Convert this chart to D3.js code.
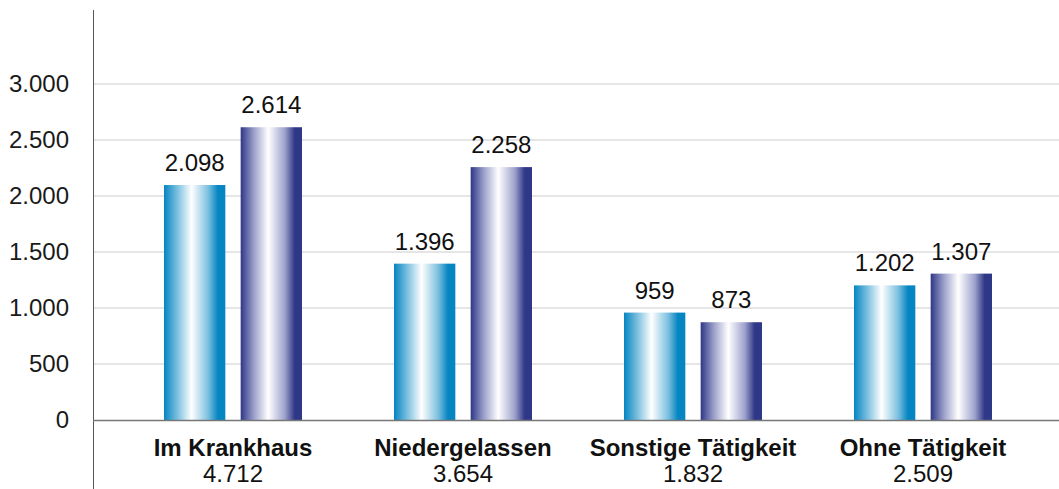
<!DOCTYPE html>
<html>
<head>
<meta charset="utf-8">
<script src="https://cdn.jsdelivr.net/npm/d3@7"></script>
<style>
  html, body { margin: 0; padding: 0; background: #fff; }
  svg { display: block; font-family: "Liberation Sans", Arial, sans-serif; }
</style>
</head>
<body>
<svg id="chart" width="1059" height="489"></svg>
<script>
// Categories, totals and the two series per category
const categories = ["Im Krankhaus", "Niedergelassen", "Sonstige Tätigkeit", "Ohne Tätigkeit"];
const totals = ["4.712", "3.654", "1.832", "2.509"];
const seriesA = [2098, 1396, 959, 1202];
const seriesB = [2614, 2258, 873, 1307];
const yTicks = [0, 500, 1000, 1500, 2000, 2500, 3000];

const W = 1059, H = 489;
const FS = 24;
const svg = d3.select("#chart");

const axisX = 93;
const y = d3.scaleLinear().domain([0, 3000]).range([420, 84]);
const x = d3.scaleBand().domain(categories).range([118, 1038]);
const inner = d3.scaleBand().domain(["a", "b"]).range([46, 184]).paddingInner(0.2);

const fmt = v => d3.format(",")(v).replace(/,/g, ".");

// Bar gradients: dark edges, white highlight just left of centre
const defs = svg.append("defs");
function gradient(id, dark, mid) {
  const g = defs.append("linearGradient").attr("id", id)
    .attr("x1", "0%").attr("x2", "100%").attr("y1", "0%").attr("y2", "0%");
  [[0, dark], [0.22, mid], [0.45, "#ffffff"], [0.72, mid], [0.88, dark], [1, dark]]
    .forEach(([o, c]) => g.append("stop").attr("offset", o).attr("stop-color", c));
}
gradient("gradA", "#0585c2", "#7cc0df");
gradient("gradB", "#2f3787", "#9ea2cc");

// Gridlines
svg.append("g").selectAll("line").data(yTicks.filter(d => d > 0)).join("line")
  .attr("x1", axisX).attr("x2", W)
  .attr("y1", d => y(d)).attr("y2", d => y(d))
  .attr("stroke", "#dcdcdc").attr("stroke-width", 1.5);

// Y axis
const yAxis = d3.axisLeft(y).tickValues(yTicks).tickFormat(fmt).tickSize(0).tickPadding(24);
const ga = svg.append("g").attr("transform", `translate(${axisX},0)`).call(yAxis);
ga.select(".domain").remove();
ga.selectAll("text").attr("font-size", FS).attr("fill", "#1a1a1a")
  .attr("font-family", "Liberation Sans, Arial, sans-serif");

svg.append("line").attr("x1", axisX + 0.5).attr("x2", axisX + 0.5).attr("y1", 10).attr("y2", H)
  .attr("stroke", "#555").attr("stroke-width", 1);

// Bars
const groups = svg.append("g").selectAll("g").data(categories).join("g")
  .attr("transform", d => `translate(${x(d)},0)`);

const bars = (key, vals, fill) => {
  groups.append("rect")
    .attr("x", inner(key)).attr("width", inner.bandwidth())
    .attr("y", (d, i) => y(vals[i])).attr("height", (d, i) => y(0) - y(vals[i]))
    .attr("fill", fill);
  groups.append("text")
    .attr("x", inner(key) + inner.bandwidth() / 2)
    .attr("y", (d, i) => y(vals[i]) - 14)
    .attr("text-anchor", "middle").attr("font-size", FS).attr("fill", "#111")
    .text((d, i) => fmt(vals[i]));
};
bars("a", seriesA, "url(#gradA)");
bars("b", seriesB, "url(#gradB)");

// Baseline
svg.append("line").attr("x1", axisX).attr("x2", W).attr("y1", y(0) + 0.5).attr("y2", y(0) + 0.5)
  .attr("stroke", "#777").attr("stroke-width", 1.5);

// Category labels with totals
groups.append("text").attr("x", x.bandwidth() / 2).attr("y", 456)
  .attr("text-anchor", "middle").attr("font-size", FS).attr("font-weight", "bold").attr("fill", "#111")
  .text(d => d);
groups.append("text").attr("x", x.bandwidth() / 2).attr("y", 482)
  .attr("text-anchor", "middle").attr("font-size", FS).attr("fill", "#111")
  .text((d, i) => totals[i]);
</script>
</body>
</html>
